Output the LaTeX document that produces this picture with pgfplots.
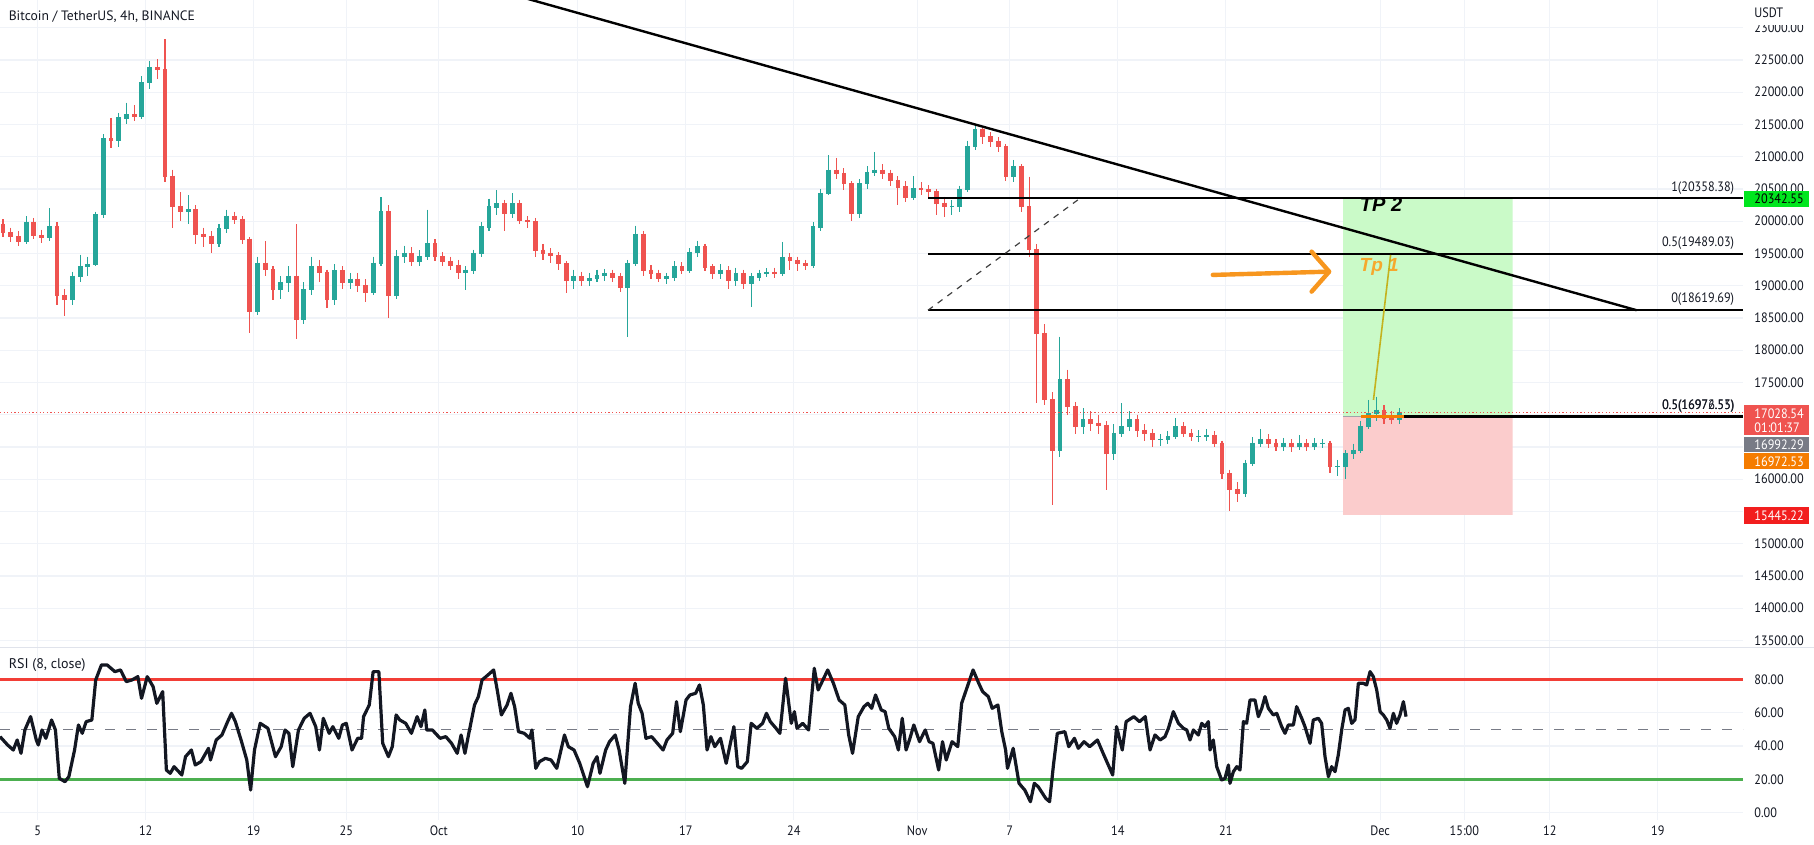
\documentclass[border=0pt]{standalone}
\usepackage{fontspec}
\setmainfont{PT Sans}
\newfontfamily\labf{PT Sans}[FakeStretch=0.9]
\newfontfamily\arialf{Liberation Sans}
\usepackage{pgfplots}
\usepackage{pgfplotstable}
\pgfplotsset{compat=1.18}

\definecolor{upc}{RGB}{38,166,154}
\definecolor{dnc}{RGB}{239,83,80}
\definecolor{gridc}{RGB}{240,243,248}
\definecolor{txt}{RGB}{19,23,34}
\definecolor{tpgreen}{RGB}{202,250,200}
\definecolor{slred}{RGB}{251,204,204}
\definecolor{rsired}{RGB}{242,62,54}
\definecolor{rsigreen}{RGB}{76,175,80}
\definecolor{midgray}{RGB}{120,123,134}
\definecolor{arrowc}{RGB}{247,150,30}
\definecolor{tpone}{RGB}{246,168,45}
\definecolor{goldc}{RGB}{196,178,30}
\definecolor{labgreen}{RGB}{0,230,30}
\definecolor{labred}{RGB}{239,83,80}
\definecolor{labred2}{RGB}{242,30,30}
\definecolor{laborange}{RGB}{245,124,0}
\definecolor{seprc}{RGB}{224,227,235}

\newcommand{\lfont}{\labf\fontsize{6.8}{8}\selectfont}

\pgfplotsset{tvbase/.style={
  scale only axis, width=871.5pt, xmin=1.557, xmax=114.52,
  axis line style={draw=none}, major tick length=0pt, tick style={draw=none},
  xtick={4,11,18,24,30,39,46,53,61,67,74,81,91,96.46,102,109},
  grid=major, major grid style={draw=gridc, line width=0.6pt},
  yticklabel pos=right, scaled y ticks=false,
  tick label style={font=\lfont, text=txt},
  yticklabel style={anchor=west, inner sep=0pt, xshift=5.5pt},
}}

\pgfplotstableread{
t o h l c
1.75 19950 20030 19760 19820
2.25 19820 19900 19680 19760
2.75 19760 19850 19620 19690
3.25 19690 20080 19640 19980
3.75 19980 20050 19720 19780
4.25 19780 19870 19660 19750
4.75 19750 20200 19700 19920
5.25 19920 19980 18700 18850
5.75 18850 18950 18530 18780
6.25 18780 19220 18700 19150
6.75 19150 19480 19050 19300
7.25 19300 19450 19150 19330
7.75 19330 20150 19300 20100
8.25 20100 21350 20050 21280
8.75 21280 21600 21130 21250
9.25 21250 21680 21150 21600
9.75 21600 21840 21500 21650
10.25 21650 21800 21550 21620
10.75 21620 22250 21580 22150
11.25 22150 22480 22050 22380
11.75 22380 22510 22200 22350
12.25 22350 22820 20600 20700
12.75 20700 20800 19900 20230
13.25 20230 20450 20000 20150
13.75 20150 20400 19950 20180
14.25 20180 20250 19650 19800
14.75 19800 19900 19600 19770
15.25 19770 19850 19510 19650
15.75 19650 19950 19600 19880
16.25 19880 20180 19820 20080
16.75 20080 20150 19950 20030
17.25 20030 20080 19650 19720
17.75 19720 19750 18270 18600
18.25 18600 19450 18550 19350
18.75 19350 19690 19150 19250
19.25 19250 19300 18780 18940
19.75 18940 19150 18800 19050
20.25 19050 19300 18900 19150
20.75 19150 19950 18170 18480
21.25 18480 19050 18400 18940
21.75 18940 19450 18850 19300
22.25 19300 19400 19050 19200
22.75 19200 19250 18650 18780
23.25 18780 19330 18700 19230
23.75 19230 19300 18950 19050
24.25 19050 19200 18950 19100
24.75 19100 19200 18900 19000
25.25 19000 19100 18750 18900
25.75 18900 19450 18850 19350
26.25 19350 20370 19300 20150
26.75 20150 20250 18500 18850
27.25 18850 19550 18800 19450
27.75 19450 19620 19350 19500
28.25 19500 19600 19300 19380
28.75 19380 19550 19300 19450
29.25 19450 20180 19400 19650
29.75 19650 19720 19380 19450
30.25 19450 19520 19300 19380
30.75 19380 19450 19250 19320
31.25 19320 19400 19100 19200
31.75 19200 19300 18930 19240
32.25 19240 19560 19180 19500
32.75 19500 19990 19450 19910
33.25 19910 20350 19850 20220
33.75 20220 20480 20100 20270
34.25 20270 20330 19850 20115
34.75 20115 20430 20050 20270
35.25 20270 20330 19950 20010
35.75 20010 20080 19900 19990
36.25 19990 20050 19450 19550
36.75 19550 19650 19400 19500
37.25 19500 19580 19350 19470
37.75 19470 19520 19250 19340
38.25 19340 19380 18880 19080
38.75 19080 19250 18950 19135
39.25 19135 19220 19000 19080
39.75 19080 19200 19000 19110
40.25 19110 19250 19050 19160
40.75 19160 19260 19080 19190
41.25 19190 19250 19050 19135
41.75 19135 19200 18900 18980
42.25 18980 19400 18200 19340
42.75 19340 19930 19300 19800
43.25 19800 19850 19150 19240
43.75 19240 19320 19100 19190
44.25 19190 19250 19050 19110
44.75 19110 19200 19030 19135
45.25 19135 19380 19080 19290
45.75 19290 19360 19180 19240
46.25 19240 19580 19200 19520
46.75 19520 19700 19450 19600
47.25 19600 19650 19230 19290
47.75 19290 19330 19100 19190
48.25 19190 19330 19100 19240
48.75 19240 19300 18950 19080
49.25 19080 19280 19000 19190
49.75 19190 19250 18950 19030
50.25 19030 19200 18670 19135
50.75 19135 19250 19080 19190
51.25 19190 19270 19130 19210
51.75 19210 19280 19120 19190
52.25 19190 19680 19150 19440
52.75 19440 19500 19250 19390
53.25 19390 19450 19230 19340
53.75 19340 19400 19250 19315
54.25 19315 19980 19280 19910
54.75 19910 20500 19850 20430
55.25 20430 21020 20400 20790
55.75 20790 20980 20650 20740
56.25 20740 20820 20480 20580
56.75 20580 20620 20010 20115
57.25 20115 20650 20050 20580
57.75 20580 20850 20500 20760
58.25 20760 21070 20700 20790
58.75 20790 20880 20650 20740
59.25 20740 20800 20550 20630
59.75 20630 20700 20245 20530
60.25 20530 20620 20300 20375
60.75 20375 20700 20330 20510
61.25 20510 20600 20400 20485
61.75 20485 20560 20380 20460
62.25 20460 20500 20100 20280
62.75 20280 20380 20070 20230
63.25 20230 20330 20100 20230
63.75 20230 20550 20150 20485
64.25 20485 21250 20450 21160
64.75 21160 21470 21100 21415
65.25 21415 21450 21200 21310
65.75 21310 21380 21150 21230
66.25 21230 21300 21080 21160
66.75 21160 21200 20620 20690
67.25 20690 20950 20600 20845
67.75 20845 20880 20150 20225
68.25 20225 20690 19450 19555
68.75 19555 19650 17180 18260
69.25 18260 18400 17150 17230
69.75 17230 17350 15600 16450
70.25 16450 18210 16350 17540
70.75 17540 17700 17000 17125
71.25 17125 17200 16700 16815
71.75 16815 17100 16700 16920
72.25 16920 17050 16750 16870
72.75 16870 17000 16700 16840
73.25 16840 16900 15835 16400
73.75 16400 16850 16300 16710
74.25 16710 17180 16650 16815
74.75 16815 17050 16750 16920
75.25 16920 17000 16650 16760
75.75 16760 16850 16600 16710
76.25 16710 16780 16500 16610
76.75 16610 16700 16520 16610
77.25 16610 16750 16550 16660
77.75 16660 16950 16620 16815
78.25 16815 16880 16650 16710
78.75 16710 16780 16600 16660
79.25 16660 16760 16580 16660
79.75 16660 16780 16600 16685
80.25 16685 16750 16500 16560
80.75 16560 16600 16000 16090
81.25 16090 16150 15500 15835
81.75 15835 15950 15650 15780
82.25 15780 16300 15720 16250
82.75 16250 16650 16200 16560
83.25 16560 16780 16500 16610
83.75 16610 16700 16480 16560
84.25 16560 16620 16430 16505
84.75 16505 16640 16440 16560
85.25 16560 16620 16420 16505
85.75 16505 16680 16450 16560
86.25 16560 16620 16430 16505
86.75 16505 16640 16450 16560
87.25 16560 16620 16480 16560
87.75 16560 16600 16100 16195
88.25 16195 16300 16050 16195
88.75 16195 16450 16000 16400
89.25 16400 16550 16320 16450
89.75 16450 16900 16400 16815
90.25 16815 17230 16780 17020
90.75 17020 17280 16900 17070
91.25 17070 17150 16850 16945
91.75 16945 17050 16850 16920
92.25 16920 17100 16860 17028
}\candles

\pgfplotstableread{
d r
1.56 45.6
2.05 40.6
2.42 37.6
2.67 43.6
2.92 35.6
3.17 49.6
3.54 57.6
3.91 43.6
4.04 40.6
4.28 49.6
4.53 44.6
4.90 55.6
5.15 49.6
5.40 20.6
5.77 18.6
6.02 21.6
6.39 37.6
6.64 52.6
6.89 47.6
7.14 54.6
7.51 55.6
7.76 79.6
8.13 88.6
8.50 88.6
9.00 84.6
9.37 85.6
9.74 78.6
10.11 79.6
10.49 81.6
10.73 68.6
11.10 81.6
11.48 75.6
11.72 65.6
12.10 72.6
12.34 25.6
12.59 23.6
12.84 27.6
13.34 22.6
13.58 33.6
13.96 37.6
14.21 28.6
14.58 30.6
15.07 38.6
15.20 31.6
15.57 43.6
15.94 46.6
16.31 54.6
16.56 59.6
16.81 54.6
17.18 43.6
17.55 31.6
17.80 13.6
18.05 37.6
18.42 53.6
18.92 50.6
19.41 33.6
19.78 39.6
20.03 49.6
20.28 47.6
20.53 27.6
20.90 49.6
21.27 56.6
21.65 59.6
22.02 51.6
22.26 37.6
22.51 56.6
22.89 47.6
23.13 51.6
23.51 44.6
23.75 52.6
24.00 53.6
24.37 37.6
24.74 44.6
24.99 44.6
25.12 57.6
25.49 64.6
25.74 84.6
26.11 84.6
26.36 41.6
26.73 33.6
26.98 39.6
27.23 58.6
27.47 55.6
27.85 53.6
28.22 47.6
28.59 57.6
28.84 51.6
29.09 61.6
29.21 49.6
29.58 49.6
30.08 44.6
30.45 45.6
30.82 41.6
31.19 35.6
31.44 46.6
31.69 35.6
31.94 47.6
32.31 64.6
32.56 69.6
32.80 79.6
33.18 82.6
33.55 85.6
33.80 72.6
34.05 58.6
34.42 64.6
34.67 71.6
34.91 63.6
35.16 48.6
35.53 47.6
35.90 44.6
36.03 49.6
36.28 26.6
36.52 30.6
36.90 32.6
37.27 31.6
37.64 26.6
38.14 46.6
38.39 39.6
38.76 37.6
39.13 29.6
39.63 15.6
40.00 29.6
40.25 33.6
40.44 23.6
40.81 37.6
41.06 42.6
41.43 46.6
41.68 37.6
42.05 17.6
42.42 63.6
42.72 77.6
42.92 65.6
43.17 59.6
43.42 44.6
43.79 45.6
44.16 41.6
44.53 37.6
44.78 43.6
45.15 47.6
45.40 66.6
45.65 48.6
46.02 67.6
46.27 70.6
46.64 71.6
46.89 76.6
47.14 64.6
47.38 37.6
47.63 45.6
47.88 39.6
48.25 44.6
48.62 29.6
49.12 51.6
49.37 27.6
49.62 26.6
49.99 30.6
50.24 53.6
50.61 50.6
50.98 53.6
51.23 59.6
51.48 54.6
51.85 50.6
52.10 47.6
52.47 80.6
52.84 53.6
53.04 60.6
53.21 50.6
53.58 53.6
53.96 49.6
54.33 86.6
54.58 73.6
55.20 85.6
55.57 77.6
55.94 67.6
56.31 64.6
56.56 46.6
56.81 35.6
57.18 57.6
57.55 63.6
57.80 65.6
58.05 62.6
58.30 70.6
58.67 61.6
58.92 60.6
59.16 50.6
59.54 45.6
59.78 37.6
60.03 56.6
60.28 37.6
60.53 44.6
60.78 52.6
61.15 42.6
61.52 49.6
61.77 42.6
62.02 41.6
62.39 25.6
62.64 42.6
62.88 31.6
63.26 42.6
63.63 39.6
63.88 65.6
64.25 75.6
64.62 85.6
64.99 77.6
65.24 72.6
65.61 69.6
65.86 62.6
66.23 64.6
66.48 48.6
66.73 37.6
66.85 26.6
67.22 38.6
67.60 17.6
67.97 13.6
68.34 6.6
68.59 17.6
68.84 15.6
69.33 8.6
69.58 6.6
69.83 28.6
70.08 47.6
70.57 48.6
70.82 39.6
71.19 44.6
71.44 38.6
71.81 42.6
72.18 39.6
72.68 43.6
73.05 35.6
73.67 22.6
73.92 51.6
74.29 37.6
74.54 54.6
75.04 57.6
75.41 54.6
75.78 57.6
76.09 37.6
76.41 46.6
76.74 43.6
77.06 45.6
77.28 50.6
77.60 60.6
77.93 53.6
78.25 50.6
78.47 49.6
78.68 43.6
78.90 49.6
79.22 46.6
79.44 53.6
79.65 51.6
79.87 54.6
79.98 37.6
80.19 43.6
80.41 27.6
80.73 19.6
80.95 20.6
81.17 28.6
81.27 17.6
81.49 24.6
81.71 27.6
81.92 25.6
82.14 54.6
82.35 53.6
82.57 67.6
82.89 67.6
83.11 57.6
83.33 62.6
83.54 69.6
83.76 62.6
84.08 58.6
84.30 59.6
84.62 51.6
84.84 47.6
85.05 52.6
85.38 52.6
85.59 63.6
85.92 56.6
86.13 51.6
86.46 41.6
86.67 55.6
87.00 56.6
87.21 53.6
87.43 33.6
87.65 21.6
87.86 27.6
88.08 24.6
88.29 34.6
88.51 49.6
88.73 61.6
88.94 62.6
89.16 53.6
89.37 55.6
89.59 77.6
89.91 77.6
90.13 76.6
90.35 84.6
90.56 81.6
90.78 73.6
91.00 60.6
91.21 58.6
91.43 55.6
91.64 50.6
91.86 59.6
92.07 53.6
92.29 58.6
92.51 66.6
92.68 57.6
}\rsi

\begin{document}
\begin{tikzpicture}[font=\lfont]
\useasboundingbox (0,0) rectangle (907pt,422.5pt);
\fill[white] (0,0) rectangle (907pt,422.5pt);

% ---------------- price panel ----------------
\begin{axis}[tvbase, at={(0pt,422.5pt)}, anchor=north west, height=323.65pt,
  ymin=13394.6, ymax=23430.2, ytick={13500,14000,...,23000},
  yticklabels={13500.00,14000.00,14500.00,15000.00,,16000.00,,,17500.00,18000.00,18500.00,19000.00,19500.00,20000.00,20500.00,21000.00,21500.00,22000.00,22500.00,23000.00},
  xticklabels={}]

% long position boxes
\addplot[fill=tpgreen, draw=none, forget plot] coordinates {(88.6,16972.53) (99.58,16972.53) (99.58,20358.38) (88.6,20358.38) (88.6,16972.53)};
\addplot[fill=slred, draw=none, forget plot] coordinates {(88.6,15445.22) (99.58,15445.22) (99.58,16972.53) (88.6,16972.53) (88.6,15445.22)};
\addplot[midgray!70, line width=0.4pt, forget plot] coordinates {(88.6,16972.53) (99.58,16972.53)};

% candles: wicks
\addplot[draw=none, mark=none, forget plot,
  error bars/.cd, y dir=minus, y explicit, error mark=none,
  error bar style={draw=upc, line width=0.55pt}]
  table[x=t, y expr={\thisrow{c}>=\thisrow{o} ? \thisrow{h} : -30000},
        y error minus expr={\thisrow{c}>=\thisrow{o} ? \thisrow{h}-\thisrow{l} : 0}] {\candles};
\addplot[draw=none, mark=none, forget plot,
  error bars/.cd, y dir=minus, y explicit, error mark=none,
  error bar style={draw=dnc, line width=0.55pt}]
  table[x=t, y expr={\thisrow{c}<\thisrow{o} ? \thisrow{h} : -30000},
        y error minus expr={\thisrow{c}<\thisrow{o} ? \thisrow{h}-\thisrow{l} : 0}] {\candles};
% candles: bodies
\addplot[draw=none, mark=none, forget plot,
  error bars/.cd, y dir=minus, y explicit, error mark=none,
  error bar style={draw=upc, line width=2.4pt}]
  table[x=t, y expr={\thisrow{c}>=\thisrow{o} ? \thisrow{c}+8 : -30000},
        y error minus expr={\thisrow{c}>=\thisrow{o} ? \thisrow{c}-\thisrow{o}+16 : 0}] {\candles};
\addplot[draw=none, mark=none, forget plot,
  error bars/.cd, y dir=minus, y explicit, error mark=none,
  error bar style={draw=dnc, line width=2.4pt}]
  table[x=t, y expr={\thisrow{c}<\thisrow{o} ? \thisrow{o}+8 : -30000},
        y error minus expr={\thisrow{c}<\thisrow{o} ? \thisrow{o}-\thisrow{c}+16 : 0}] {\candles};

% current price dotted line
\addplot[dnc, line width=0.5pt, dash pattern=on 0.6pt off 1.2pt, forget plot] coordinates {(1.557,17028.54) (114.52,17028.54)};

% fib retracement
\addplot[black, line width=1.2pt, forget plot] coordinates {(61.7,20358.38) (114.52,20358.38)};
\addplot[black, line width=1.2pt, forget plot] coordinates {(61.7,19489.03) (114.52,19489.03)};
\addplot[black, line width=1.2pt, forget plot] coordinates {(61.7,18619.69) (114.52,18619.69)};
\addplot[black!75, line width=0.6pt, dash pattern=on 3pt off 3pt, forget plot] coordinates {(61.7,18619.69) (71.57,20358.38)};
\addplot[laborange, line width=1.3pt, forget plot] coordinates {(89.76,16972.53) (92.56,16972.53)};
\addplot[black, line width=1.3pt, forget plot] coordinates {(92.56,16972.53) (114.52,16972.53)};

% descending trend line
\addplot[black, line width=1.2pt, forget plot] coordinates {(35.5,23464) (107.62,18620)};

\node[anchor=east, inner sep=0pt, text=txt] at (axis cs:113.97,20520) {1(20358.38)};
\node[anchor=east, inner sep=0pt, text=txt] at (axis cs:113.97,19658) {0.5(19489.03)};
\node[anchor=east, inner sep=0pt, text=txt] at (axis cs:113.97,18795) {0(18619.69)};
\node[anchor=east, inner sep=0pt, text=txt] at (axis cs:113.97,17125) {0.5(16972.53)};
\node[anchor=east, inner sep=0pt, text=txt] at (axis cs:113.99,17125) {0.5(16976.55)};

% annotations
\node[text=tpone, inner sep=0pt] at (axis cs:90.94,19295) {\arialf\bfseries\itshape\fontsize{9.5}{11}\selectfont Tp 1};
\node[text=black, inner sep=0pt] at (axis cs:91.06,20252) {\arialf\bfseries\itshape\fontsize{10}{12}\selectfont TP 2};
\addplot[goldc, line width=0.8pt, forget plot] coordinates {(90.57,17229) (91.68,19477)};
\addplot[arrowc, line width=2.2pt, line cap=round, forget plot] coordinates {(80.16,19167) (87.7,19218)};
\addplot[arrowc, line width=2.2pt, line cap=round, line join=round, forget plot] coordinates {(86.56,19528) (87.7,19218) (86.56,18908)};
\end{axis}

% ---------------- RSI panel ----------------
\begin{axis}[tvbase, at={(0pt,98.5pt)}, anchor=north west, height=86pt,
  ymin=-4.38, ymax=98.77, ytick={0,20,40,60,80},
  yticklabels={0.00,20.00,40.00,60.00,80.00},
  xticklabels={5,12,19,25,Oct,10,17,24,Nov,7,14,21,Dec,15:00,12,19},
  xticklabel style={anchor=center, yshift=-5.5pt}]
\addplot[rsired, line width=1.7pt, forget plot] coordinates {(1.557,80) (114.52,80)};
\addplot[rsigreen, line width=1.7pt, forget plot] coordinates {(1.557,20) (114.52,20)};
\addplot[midgray, line width=0.8pt, dash pattern=on 5pt off 5.5pt, forget plot] coordinates {(1.557,50) (114.52,50)};
\addplot[txt, line width=1.6pt, line join=round, mark=none] table[x=d, y=r] {\rsi};
\end{axis}

% separators and texts
\draw[seprc, line width=0.6pt] (0,98.85pt) -- (907pt,98.85pt);
\node[anchor=west, inner sep=0pt, text=txt, font=\fontsize{6.8}{8}\selectfont] at (4.2pt,414.4pt) {Bitcoin / TetherUS, 4h, BINANCE};
\node[anchor=west, inner sep=0pt, text=txt, font=\fontsize{7}{8}\selectfont] at (4.2pt,90pt) {RSI (8, close)};

\fill[white] (872pt,409.75pt) rectangle (907pt,422.5pt);
\node[anchor=west, inner sep=0pt, text=txt] at (877pt,416pt) {USDT};

\fill[labgreen] (872pt,318.85pt) rectangle (904.5pt,327pt);
\node[anchor=west, inner sep=0pt, text=black] at (877pt,322.9pt) {20342.55};

\fill[labred] (872pt,205pt) rectangle (904.5pt,220pt);
\node[anchor=west, inner sep=0pt, text=white] at (877pt,215.85pt) {17028.54};
\node[anchor=west, inner sep=0pt, text=white] at (877pt,208.85pt) {01:01:37};

\fill[midgray] (872pt,196.35pt) rectangle (904.5pt,204.15pt);
\node[anchor=west, inner sep=0pt, text=white] at (877pt,200.25pt) {16992.29};

\fill[laborange] (872pt,187.85pt) rectangle (904.5pt,195.85pt);
\node[anchor=west, inner sep=0pt, text=white] at (877pt,191.85pt) {16972.53};

\fill[labred2] (872pt,160.5pt) rectangle (904.5pt,168.85pt);
\node[anchor=west, inner sep=0pt, text=white] at (877pt,164.65pt) {15445.22};
\end{tikzpicture}
\end{document}
